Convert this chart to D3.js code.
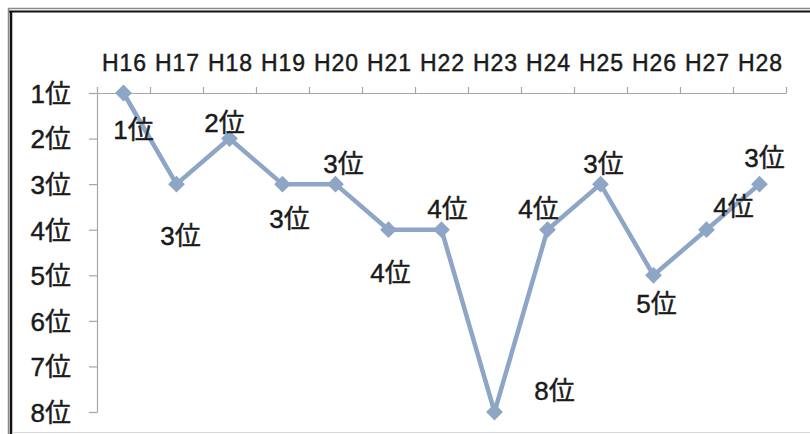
<!DOCTYPE html>
<html>
<head>
<meta charset="utf-8">
<script src="https://cdn.jsdelivr.net/npm/d3@7"></script>
<style>
  html, body { margin: 0; padding: 0; background: #fff; }
  svg { display: block; }
  text { font-family: "Liberation Sans", Arial, "Noto Sans CJK JP", sans-serif; fill: #1a1a1a; stroke: #1a1a1a; stroke-width: 0.45px; }
</style>
</head>
<body>
<svg id="chart" width="810" height="434"></svg>
<script>
// Fiscal years (Heisei era) and the ranking for each year
const years = ["H16","H17","H18","H19","H20","H21","H22","H23","H24","H25","H26","H27","H28"];
const ranks = [1, 3, 2, 3, 3, 4, 4, 8, 4, 3, 5, 4, 3];
const rankTicks = [1, 2, 3, 4, 5, 6, 7, 8];
const suffix = "位";

// Where each value label sits relative to its marker [dx, dy]
const labelOffsets = [
  [10, 37], [4, 51], [-5, -16], [7, 34], [8, -21], [2, 43], [6, -21],
  [60, -21], [-9, -21], [3, -21], [3, 28], [27, -23], [5, -27]
];

const svg = d3.select("#chart");
const W = 810, H = 434;

// Frame around the chart
svg.append("rect").attr("x", 0).attr("y", 0).attr("width", W).attr("height", H).attr("fill", "#fff");
svg.append("line").attr("x1", 8).attr("x2", W).attr("y1", 8.5).attr("y2", 8.5).attr("stroke", "#8a8a8a").attr("stroke-width", 1.5);
svg.append("line").attr("x1", 8).attr("x2", W).attr("y1", 11.5).attr("y2", 11.5).attr("stroke", "#111").attr("stroke-width", 2);
svg.append("line").attr("x1", 8.5).attr("x2", 8.5).attr("y1", 8).attr("y2", H).attr("stroke", "#8a8a8a").attr("stroke-width", 1.5);
svg.append("line").attr("x1", 11).attr("x2", 11).attr("y1", 11).attr("y2", H).attr("stroke", "#111").attr("stroke-width", 2.5);
svg.append("line").attr("x1", 12).attr("x2", W).attr("y1", 432.5).attr("y2", 432.5).attr("stroke", "#d8d8d8").attr("stroke-width", 1);

// Scales
const plotLeft = 97, plotRight = 786, plotTop = 93, plotBottom = 412;
const x = d3.scaleBand().domain(years).range([plotLeft, plotRight]).padding(0);
const xEdge = d3.scaleLinear().domain([0, years.length]).range([plotLeft, plotRight]);
const y = d3.scaleLinear().domain([1, 8]).range([plotTop, plotBottom]);
const cx = d => x(d) + x.bandwidth() / 2;

const axisColor = "#a6a6a6";

// Category axis along the top (rank 1), ticks between categories
const gx = svg.append("g").attr("transform", `translate(0,${plotTop})`)
  .call(d3.axisTop(xEdge).tickValues(d3.range(years.length + 1)).tickSize(6).tickSizeOuter(0).tickFormat(""));
gx.selectAll("path, line").attr("stroke", axisColor).attr("stroke-width", 1.2);

// Category labels
svg.append("g").selectAll("text").data(years).join("text")
  .attr("x", d => cx(d) + 1)
  .attr("y", 71)
  .attr("text-anchor", "middle")
  .attr("font-size", 23)
  .attr("letter-spacing", 1)
  .text(d => d);

// Rank axis on the left
const gy = svg.append("g").attr("transform", `translate(${plotLeft},0)`)
  .call(d3.axisLeft(y).tickValues(rankTicks).tickSize(8).tickSizeOuter(0).tickPadding(18)
    .tickFormat(d => d + suffix));
gy.selectAll("path, line").attr("stroke", axisColor).attr("stroke-width", 1.2);
gy.selectAll("text")
  .attr("font-size", 26)
  .attr("fill", "#1a1a1a")
  .attr("font-family", '"Liberation Sans", Arial, "Noto Sans CJK JP", sans-serif')
  .attr("dy", "0.36em");

// Ranking line
const seriesColor = "#8ea6c6";
const points = years.map((yr, i) => ({ yr, rank: ranks[i], off: labelOffsets[i] }));
svg.append("path")
  .datum(points)
  .attr("fill", "none")
  .attr("stroke", seriesColor)
  .attr("stroke-width", 4.5)
  .attr("stroke-linejoin", "round")
  .attr("d", d3.line().x(d => cx(d.yr)).y(d => y(d.rank)));

// Diamond markers
svg.append("g").selectAll("path").data(points).join("path")
  .attr("transform", d => `translate(${cx(d.yr)},${y(d.rank)})`)
  .attr("d", d3.symbol().type(d3.symbolDiamond2).size(180))
  .attr("fill", seriesColor);

// Value labels
svg.append("g").selectAll("text").data(points).join("text")
  .attr("x", d => cx(d.yr) + d.off[0])
  .attr("y", d => y(d.rank) + d.off[1])
  .attr("dy", "0.36em")
  .attr("text-anchor", "middle")
  .attr("font-size", 26)
  .text(d => d.rank + suffix);
</script>
</body>
</html>
